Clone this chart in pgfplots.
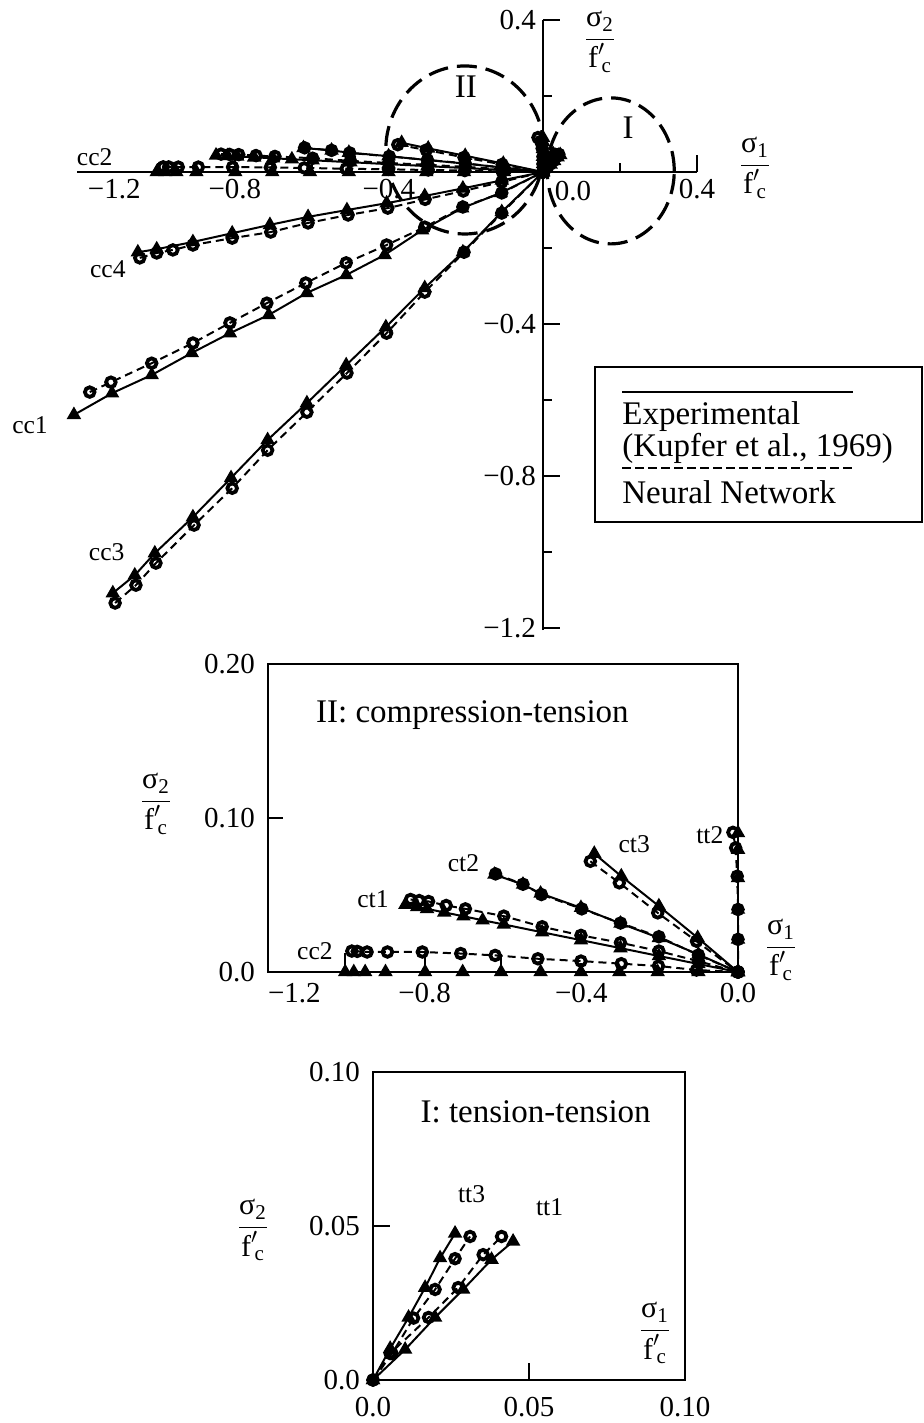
\documentclass[border=0pt]{standalone}
\usepackage{amsmath}
\usepackage{fontspec}
\setmainfont{Liberation Serif}
\usepackage{pgfplots}
\usepackage{pgfplotstable}
\pgfplotsset{compat=1.18}

% ---------- biaxial compression (Experimental / Neural Network) ----------
\pgfplotstableread{
x y
-1.218 -0.639
-1.119 -0.582
-1.016 -0.534
-0.912 -0.476
-0.813 -0.424
-0.712 -0.376
-0.613 -0.318
-0.511 -0.271
-0.411 -0.218
-0.314 -0.153
-0.210 -0.095
-0.110 -0.055
0 0
}\tabCConeExp
\pgfplotstableread{
x y
-1.177 -0.579
-1.122 -0.553
-1.016 -0.503
-0.909 -0.450
-0.813 -0.397
-0.717 -0.345
-0.616 -0.292
-0.511 -0.239
-0.406 -0.192
-0.307 -0.145
-0.208 -0.092
-0.107 -0.055
0 0
}\tabCConeNN
\pgfplotstableread{
x y
-1.117 -1.108
-1.060 -1.061
-1.008 -1.003
-0.909 -0.908
-0.810 -0.805
-0.715 -0.705
-0.613 -0.608
-0.511 -0.508
-0.408 -0.408
-0.307 -0.305
-0.208 -0.211
-0.107 -0.105
0 0
}\tabCCthreeExp
\pgfplotstableread{
x y
-1.111 -1.134
-1.057 -1.087
-1.005 -1.029
-0.906 -0.929
-0.807 -0.832
-0.715 -0.732
-0.613 -0.632
-0.509 -0.529
-0.406 -0.424
-0.307 -0.316
-0.205 -0.211
-0.107 -0.108
0 0
}\tabCCthreeNN
\pgfplotstableread{
x y
-1.052 -0.211
-1.003 -0.203
-0.909 -0.184
-0.807 -0.161
-0.709 -0.139
-0.610 -0.118
-0.509 -0.100
-0.406 -0.082
-0.307 -0.063
-0.208 -0.043
-0.107 -0.022
0 0
}\tabCCfourExp
\pgfplotstableread{
x y
-1.047 -0.226
-1.003 -0.213
-0.961 -0.205
-0.909 -0.192
-0.807 -0.174
-0.707 -0.158
-0.610 -0.134
-0.506 -0.113
-0.403 -0.095
-0.306 -0.072
-0.207 -0.050
-0.107 -0.026
0 0
}\tabCCfourNN
% ---------- compression-tension ----------
\pgfplotstableread{
x y
-1.003 0
-0.981 0
-0.952 0
-0.900 0
-0.799 0
-0.703 0
-0.605 0
-0.504 0
-0.401 0
-0.303 0
-0.205 0
-0.101 0
0 0
}\tabCCtwoExp
\pgfplotstableread{
x y
-0.986 0.0136
-0.972 0.0134
-0.947 0.0130
-0.895 0.0130
-0.806 0.0130
-0.708 0.0120
-0.620 0.0108
-0.511 0.0086
-0.401 0.0071
-0.298 0.0054
-0.203 0.0039
-0.106 0.0013
0 0
}\tabCCtwoNN
\pgfplotstableread{
x y
-0.849 0.0438
-0.819 0.0423
-0.794 0.0410
-0.750 0.0387
-0.701 0.0362
-0.652 0.0336
-0.598 0.0309
-0.500 0.0258
-0.401 0.0207
-0.300 0.0155
-0.202 0.0104
-0.101 0.0052
0 0
}\tabCToneExp
\pgfplotstableread{
x y
-0.836 0.0471
-0.814 0.0464
-0.790 0.0458
-0.745 0.0432
-0.696 0.0410
-0.598 0.0363
-0.500 0.0294
-0.401 0.0238
-0.300 0.0190
-0.202 0.0136
-0.101 0.0070
0 0
}\tabCToneNN
\pgfplotstableread{
x y
-0.622 0.0633
-0.549 0.0568
-0.504 0.0510
-0.401 0.0417
-0.300 0.0315
-0.202 0.0222
-0.101 0.0114
0 0
}\tabCTtwoExp
\pgfplotstableread{
x y
-0.619 0.0637
-0.549 0.0570
-0.502 0.0503
-0.399 0.0410
-0.300 0.0318
-0.202 0.0229
-0.101 0.0110
0 0
}\tabCTtwoNN
\pgfplotstableread{
x y
-0.367 0.0769
-0.298 0.0622
-0.202 0.0428
-0.103 0.0222
0 0
}\tabCTthreeExp
\pgfplotstableread{
x y
-0.377 0.0719
-0.303 0.0579
-0.205 0.0384
-0.106 0.0200
0 0
}\tabCTthreeNN
% ---------- tension-tension ----------
\pgfplotstableread{
x y
0 0
0 0.0212
0 0.0406
0 0.0611
0 0.0795
0 0.0903
}\tabTTtwoExp
\pgfplotstableread{
x y
0 0
0 0.0212
0 0.0406
-0.002 0.0622
-0.006 0.0806
-0.013 0.0907
}\tabTTtwoNN
\pgfplotstableread{
x y
0 0
0.0103 0.0099
0.0199 0.0203
0.0289 0.0294
0.0380 0.0391
0.0449 0.0450
}\tabTToneExp
\pgfplotstableread{
x y
0 0
0.0055 0.0086
0.0178 0.0203
0.0273 0.0300
0.0353 0.0407
0.0412 0.0466
}\tabTToneNN
\pgfplotstableread{
x y
0 0
0.0055 0.0102
0.0114 0.0203
0.0167 0.0300
0.0215 0.0396
0.0263 0.0476
}\tabTTthreeExp
\pgfplotstableread{
x y
0 0
0.0061 0.0086
0.0130 0.0201
0.0199 0.0294
0.0263 0.0394
0.0311 0.0466
}\tabTTthreeNN

\newcommand{\tickfont}{\fontsize{14.5}{16}\selectfont}
\newcommand{\curvefont}{\fontsize{12.8}{14}\selectfont}
\newcommand{\titlefont}{\fontsize{16.5}{19}\selectfont}
\newcommand{\fracfont}{\fontsize{15}{17}\selectfont}
\newcommand{\sfr}[1]{{\fracfont$\dfrac{\text{σ}_{\text{#1}}}{\text{f}'{}_{\!\text{c}}}$}}

\pgfplotsset{
  exp/.style={black, line width=1pt, solid, mark=triangle*, mark size=3.2pt,
    mark options={solid, fill=black}},
  nn/.style={black, line width=1pt, dash pattern=on 4pt off 2.5pt, mark=o,
    mark size=2.4pt, mark options={solid, line width=1.9pt}},
  panel/.style={scale only axis, clip=false,
    axis line style={line width=1.2pt},
    every tick/.style={black, line width=1.1pt},
    tick label style={font=\tickfont},
    yticklabel style={xshift=-3pt},
    xtick pos=bottom, ytick pos=left, tick align=inside},
}

\begin{document}
\begin{tikzpicture}
\useasboundingbox (0,0) rectangle (462pt,-711.5pt);

% ================= full biaxial envelope =================
\begin{axis}[
  at={(38.5pt,-315pt)}, anchor=south west,
  width=310pt, height=305pt, scale only axis,
  xmin=-1.21, xmax=0.4, ymin=-1.205, ymax=0.4,
  axis lines=middle,
  axis line style={line width=1.2pt, -},
  clip=false,
  xtick={-0.8,-0.4,0.4}, xticklabels={−0.8,−0.4,0.4},
  minor xtick={-1.0,-0.6,-0.2,0.2},
  ytick={-1.2,-0.8,-0.4,0.4}, yticklabels={−1.2,−0.8,−0.4,0.4},
  minor ytick={-1.0,-0.6,-0.2,0.2},
  tick align=inside,
  major tick length=8.5pt, minor tick length=4.5pt,
  every tick/.style={black, line width=1.1pt},
  tick label style={font=\tickfont},
]
\addplot[exp] table {\tabCConeExp};
\addplot[nn]  table {\tabCConeNN};
\addplot[exp] table {\tabCCthreeExp};
\addplot[nn]  table {\tabCCthreeNN};
\addplot[exp] table {\tabCCfourExp};
\addplot[nn]  table {\tabCCfourNN};
\addplot[exp] table {\tabCCtwoExp};
\addplot[nn]  table {\tabCCtwoNN};
\addplot[exp] table {\tabCToneExp};
\addplot[nn]  table {\tabCToneNN};
\addplot[exp] table {\tabCTtwoExp};
\addplot[nn]  table {\tabCTtwoNN};
\addplot[exp] table {\tabCTthreeExp};
\addplot[nn]  table {\tabCTthreeNN};
\addplot[exp] table {\tabTTtwoExp};
\addplot[nn]  table {\tabTTtwoNN};
\addplot[exp] table {\tabTToneExp};
\addplot[nn]  table {\tabTToneNN};
\addplot[exp] table {\tabTTthreeExp};
\addplot[nn]  table {\tabTTthreeNN};
% regions enlarged below
\draw[black, line width=1.6pt, dash pattern=on 10pt off 4.5pt]
  (axis cs:-0.203,0.058) ellipse [x radius=39.5pt, y radius=42pt];
\draw[black, line width=1.6pt, dash pattern=on 10pt off 4.5pt]
  (axis cs:0.176,0.003) ellipse [x radius=31.75pt, y radius=36.5pt];
\node[font=\titlefont] at (axis cs:-0.200,0.225) {II};
\node[font=\titlefont] at (axis cs:0.221,0.116) {I};
\node[font=\tickfont, anchor=north west, inner sep=0.3333em] at (axis cs:-1.2,0) {−1.2};
\node[font=\tickfont] at (axis cs:0.078,-0.050) {0.0};
\node[font=\curvefont] at (axis cs:-1.164,0.040) {cc2};
\node[font=\curvefont] at (axis cs:-1.130,-0.255) {cc4};
\node[font=\curvefont] at (axis cs:-1.332,-0.666) {cc1};
\node[font=\curvefont] at (axis cs:-1.133,-1.000) {cc3};
\end{axis}
\node at (300pt,-21pt) {\sfr{2}};
\node at (377.5pt,-84pt) {\sfr{1}};

% legend
\draw[line width=1.1pt] (297.5pt,-183.5pt) rectangle (461pt,-261pt);
\draw[line width=1pt] (311pt,-196pt) -- (426.5pt,-196pt);
\node[anchor=west, font=\titlefont, inner sep=0pt] at (311pt,-208.5pt) {Experimental};
\node[anchor=west, font=\titlefont, inner sep=0pt] at (311pt,-224pt) {(Kupfer et al., 1969)};
\draw[line width=1pt, dash pattern=on 4.5pt off 2pt] (311pt,-234pt) -- (426.5pt,-234pt);
\node[anchor=west, font=\titlefont, inner sep=0pt] at (311pt,-246pt) {Neural Network};

% ================= II: compression-tension =================
\begin{axis}[panel,
  at={(134pt,-486pt)}, anchor=south west,
  width=235pt, height=154pt,
  xmin=-1.2, xmax=0, ymin=0, ymax=0.2,
  xtick={-1.2,-0.8,-0.4,0}, xticklabels={\rlap{−1.2},−0.8,−0.4,0.0},
  ytick={0,0.1,0.2}, yticklabels={0.0,0.10,0.20},
  xticklabel style={yshift=-2pt},
  major tick length=7.5pt,
  xtick style={draw=none},
]
\addplot[black, line width=0.9pt, ycomb, no marks] coordinates
  {(-1.003,0.0125) (-0.799,0.0125) (-0.605,0.0115) (-0.401,0.0060)};
\addplot[exp] table {\tabCCtwoExp};
\addplot[nn]  table {\tabCCtwoNN};
\addplot[exp] table {\tabCToneExp};
\addplot[nn]  table {\tabCToneNN};
\addplot[exp] table {\tabCTtwoExp};
\addplot[nn]  table {\tabCTtwoNN};
\addplot[exp] table {\tabCTthreeExp};
\addplot[nn]  table {\tabCTthreeNN};
\addplot[exp] table {\tabTTtwoExp};
\addplot[nn]  table {\tabTTtwoNN};
\node[anchor=west, font=\titlefont] at (axis cs:-1.095,0.167) {II: compression-tension};
\node[font=\curvefont] at (axis cs:-0.932,0.047) {ct1};
\node[font=\curvefont] at (axis cs:-0.701,0.071) {ct2};
\node[font=\curvefont] at (axis cs:-0.265,0.083) {ct3};
\node[font=\curvefont] at (axis cs:-0.072,0.089) {tt2};
\node[font=\curvefont] at (axis cs:-1.080,0.0136) {cc2};
\end{axis}
\node at (78pt,-402pt) {\sfr{2}};
\node at (390.5pt,-475pt) {\sfr{1}};

% ================= I: tension-tension =================
\begin{axis}[panel,
  at={(186.5pt,-690pt)}, anchor=south west,
  width=156pt, height=154pt,
  xmin=0, xmax=0.1, ymin=0, ymax=0.1,
  xtick={0,0.05,0.1}, xticklabels={0.0,0.05,0.10},
  ytick={0,0.05,0.1}, yticklabels={0.0,0.05,0.10},
  xticklabel style={yshift=-5pt},
  major tick length=8.5pt,
]
\addplot[exp] table {\tabTToneExp};
\addplot[nn]  table {\tabTToneNN};
\addplot[exp] table {\tabTTthreeExp};
\addplot[nn]  table {\tabTTthreeNN};
\node[anchor=west, font=\titlefont] at (axis cs:0.013,0.087) {I: tension-tension};
\node[font=\curvefont] at (axis cs:0.0316,0.0605) {tt3};
\node[font=\curvefont] at (axis cs:0.0566,0.0562) {tt1};
\end{axis}
\node at (126.5pt,-615pt) {\sfr{2}};
\node at (327.5pt,-666.5pt) {\sfr{1}};
\end{tikzpicture}
\end{document}
